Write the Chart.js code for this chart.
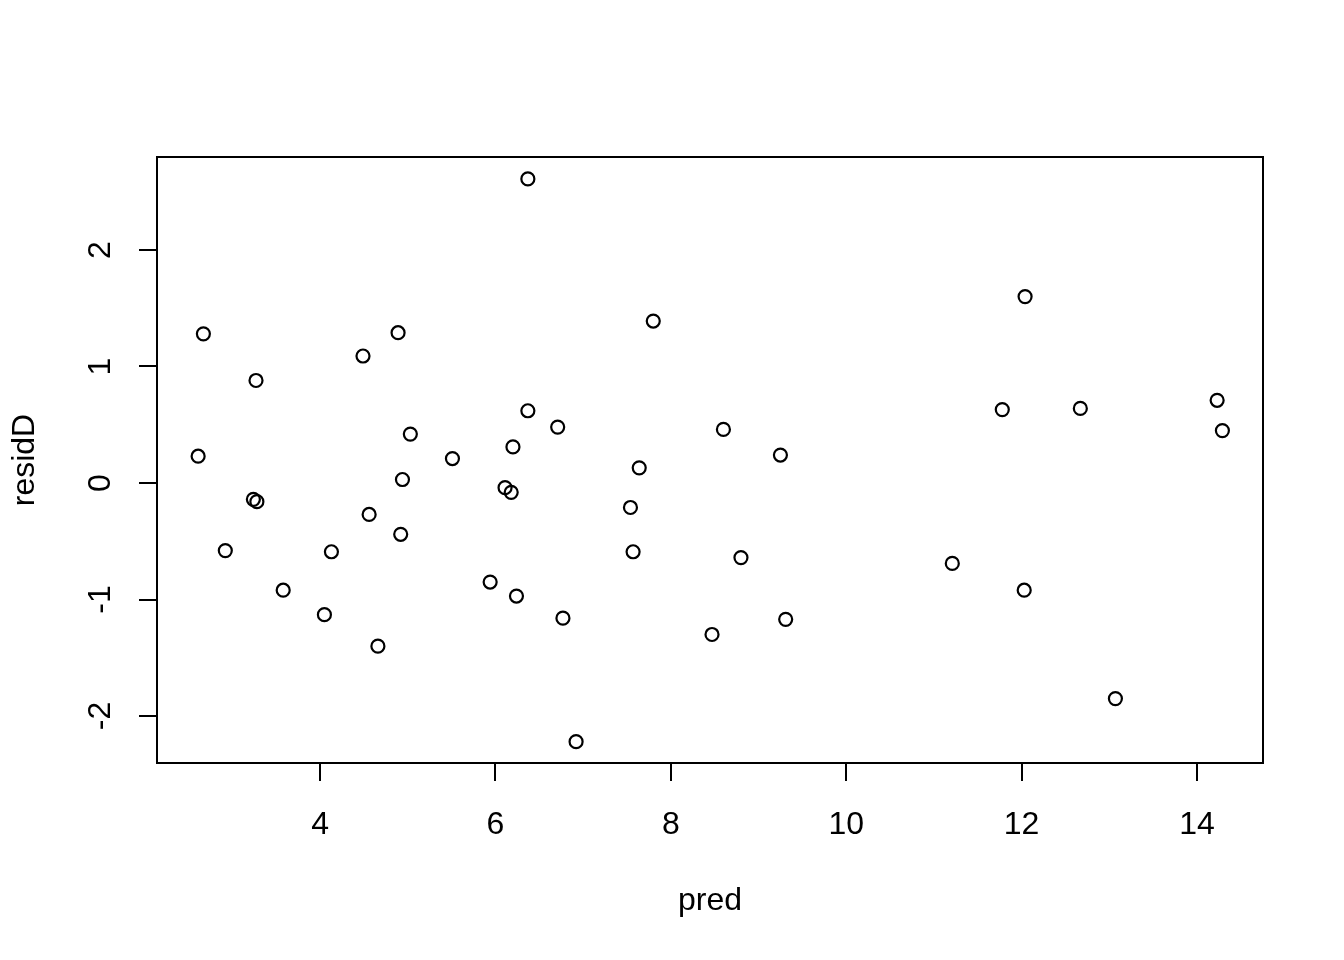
<!DOCTYPE html>
<html>
<head>
<meta charset="utf-8">
<script src="https://cdn.jsdelivr.net/npm/chart.js@4.4.0/dist/chart.umd.min.js"></script>
<style>
  html, body { margin: 0; padding: 0; background: #fff; }
  #wrap { width: 1344px; height: 960px; }
</style>
</head>
<body>
<div id="wrap"><canvas id="plot" width="1344" height="960"></canvas></div>
<script>
// --- data ---
const predValues = [
  6.37, 2.67, 4.89, 4.49, 3.27, 7.80, 12.04, 2.61, 5.03, 5.51, 4.94,
  6.20, 6.37, 6.71, 7.64, 8.60, 9.25, 11.78, 12.67, 14.23, 14.29,
  3.24, 3.28, 2.92, 4.56, 4.13, 4.92, 6.11, 6.18, 7.54, 7.57, 8.80,
  11.21, 3.58, 4.05, 4.66, 5.94, 6.24, 6.77, 8.47, 9.31, 12.03, 13.07, 6.92
];
const residValues = [
  2.61, 1.28, 1.29, 1.09, 0.88, 1.39, 1.60, 0.23, 0.42, 0.21, 0.03,
  0.31, 0.62, 0.48, 0.13, 0.46, 0.24, 0.63, 0.64, 0.71, 0.45,
  -0.14, -0.16, -0.58, -0.27, -0.59, -0.44, -0.04, -0.08, -0.21, -0.59, -0.64,
  -0.69, -0.92, -1.13, -1.40, -0.85, -0.97, -1.16, -1.30, -1.17, -0.92, -1.85, -2.22
];
const xTicks = [4, 6, 8, 10, 12, 14];
const yTicks = [-2, -1, 0, 1, 2];
const xLabel = 'pred';
const yLabel = 'residD';

const FONT = 'Arial, "Liberation Sans", sans-serif';

// box round the plot area plus the rotated y labels and axis titles
const rBase = {
  id: 'rBase',
  afterDraw(chart) {
    const { ctx, chartArea: a, scales } = chart;
    ctx.save();
    ctx.strokeStyle = '#000';
    ctx.lineWidth = 2;
    ctx.strokeRect(a.left, a.top, a.right - a.left, a.bottom - a.top);

    ctx.fillStyle = '#000';
    ctx.font = '32px ' + FONT;
    ctx.textAlign = 'center';
    ctx.textBaseline = 'middle';
    yTicks.forEach(v => {
      const y = scales.y.getPixelForValue(v);
      ctx.save();
      ctx.translate(101, y);
      ctx.rotate(-Math.PI / 2);
      ctx.fillText(String(v), 0, 0);
      ctx.restore();
    });

    ctx.fillText(xLabel, (a.left + a.right) / 2, 901);
    ctx.save();
    ctx.translate(25, (a.top + a.bottom) / 2);
    ctx.rotate(-Math.PI / 2);
    ctx.fillText(yLabel, 0, 0);
    ctx.restore();
    ctx.restore();
  }
};

const points = predValues.map((x, i) => ({ x: x, y: residValues[i] }));

new Chart(document.getElementById('plot'), {
  type: 'scatter',
  data: {
    datasets: [{
      data: points,
      pointRadius: 6.5,
      pointHoverRadius: 6.5,
      borderWidth: 2.2,
      borderColor: '#000',
      backgroundColor: 'rgba(0,0,0,0)'
    }]
  },
  options: {
    responsive: false,
    animation: false,
    layout: { padding: { top: 157, right: 81, left: 0, bottom: 0 } },
    plugins: { legend: { display: false }, tooltip: { enabled: false } },
    scales: {
      x: {
        type: 'linear',
        min: 2.141, max: 14.753,
        afterBuildTicks: s => { s.ticks = xTicks.map(v => ({ value: v })); },
        afterFit: s => { s.height = 960 - 763; },
        border: { display: false },
        grid: { drawOnChartArea: false, drawTicks: true, tickLength: 18, color: '#000', lineWidth: 2 },
        ticks: { color: '#000', font: { size: 32, family: FONT }, padding: 25, maxRotation: 0 }
      },
      y: {
        type: 'linear',
        min: -2.403, max: 2.798,
        afterBuildTicks: s => { s.ticks = yTicks.map(v => ({ value: v })); },
        afterFit: s => { s.width = 157; },
        border: { display: false },
        grid: { drawOnChartArea: false, drawTicks: true, tickLength: 18, color: '#000', lineWidth: 2 },
        ticks: { display: false }
      }
    }
  },
  plugins: [rBase]
});
</script>
</body>
</html>
